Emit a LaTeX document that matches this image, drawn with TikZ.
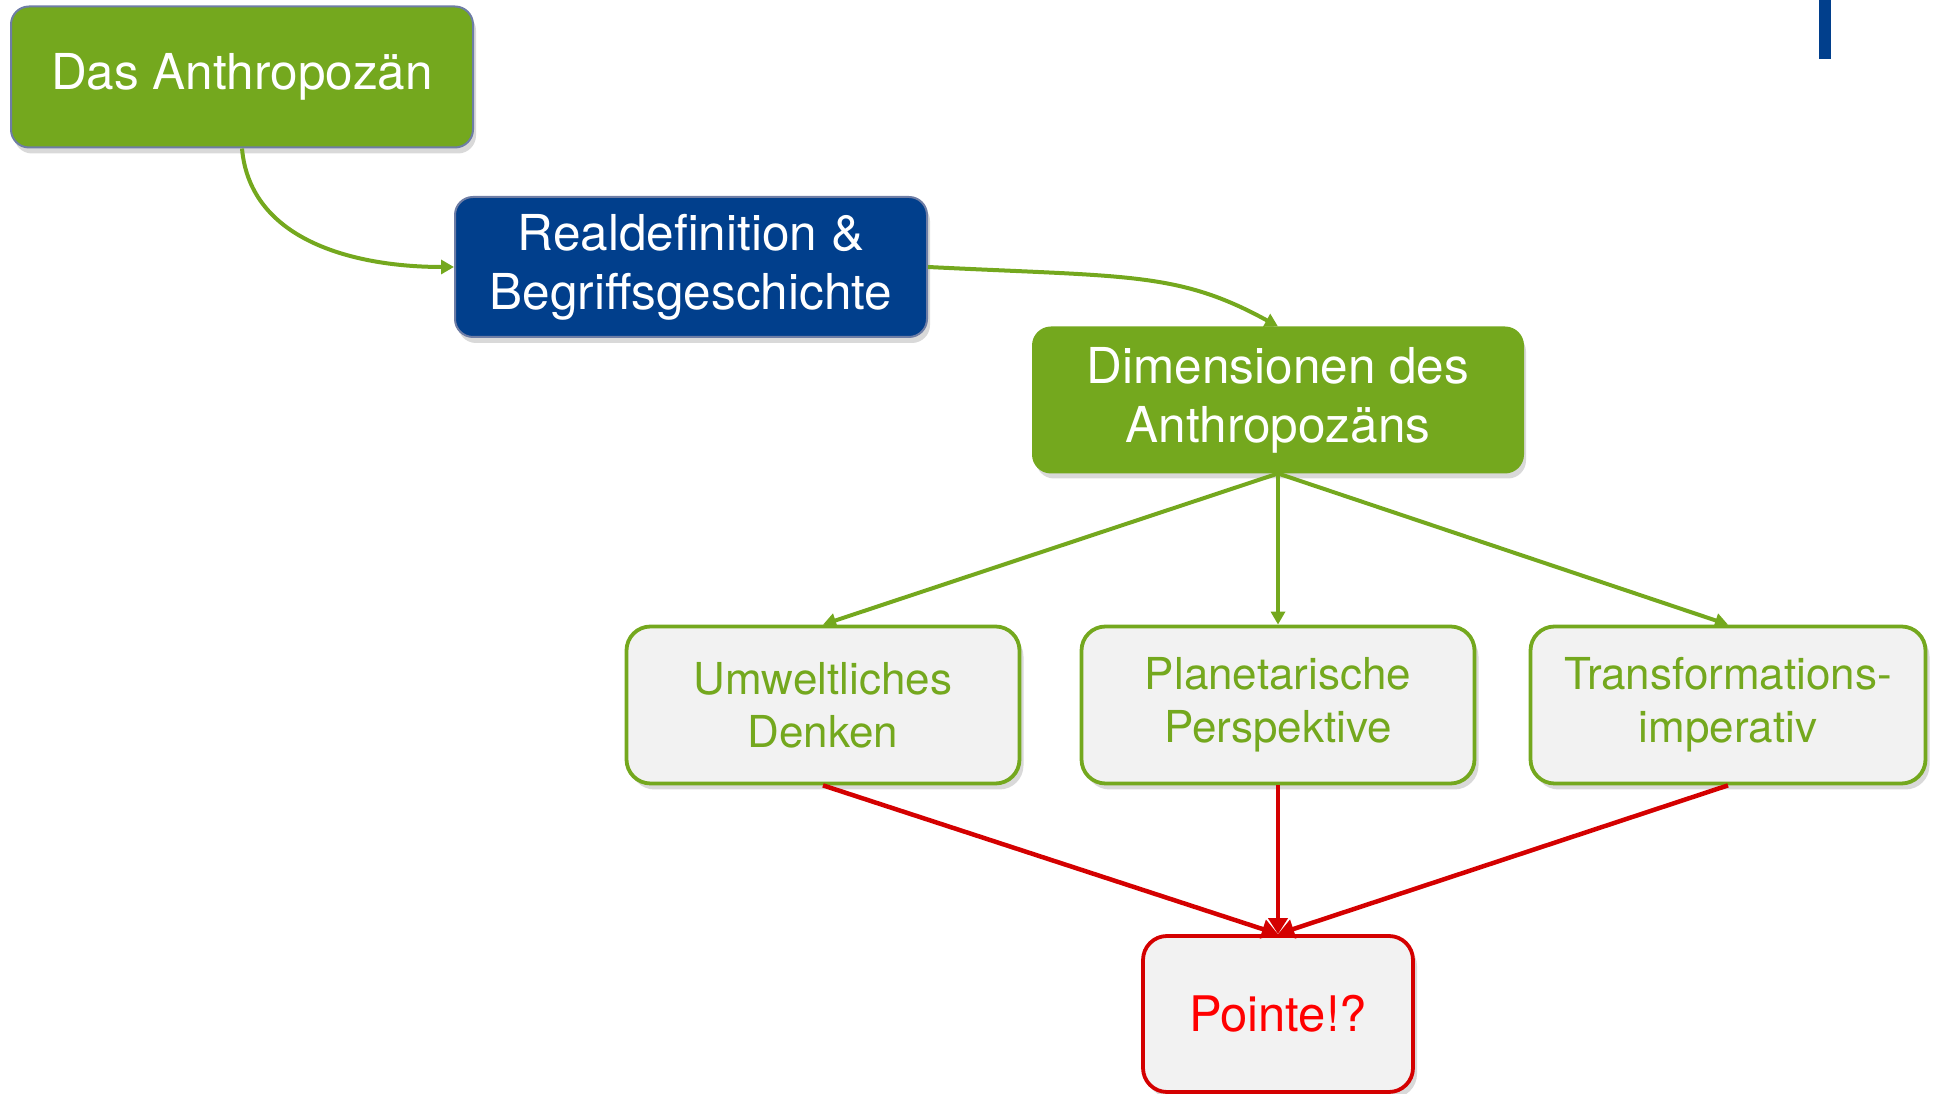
\documentclass[tikz,border=0pt]{standalone}
\usepackage{fontspec}
\setmainfont{TeX Gyre Heros}
\usetikzlibrary{arrows.meta,shadows}
\definecolor{anthgreen}{RGB}{116,168,30}
\definecolor{anthblue}{RGB}{1,63,140}
\definecolor{anthred}{RGB}{212,0,0}
\definecolor{edgegray}{RGB}{110,125,165}
\definecolor{lightfill}{RGB}{242,242,242}

\begin{document}
\begin{tikzpicture}[x=1pt,y=1pt,
  topbox/.style={rounded corners=18pt,text=white,align=center,inner sep=0pt,
    font={\fontsize{49.5}{59}\selectfont},line width=2pt,
    drop shadow={shadow xshift=3pt,shadow yshift=-6pt,opacity=0.3}},
  subbox/.style={rounded corners=24pt,fill=lightfill,draw=anthgreen,text=anthgreen,
    align=center,inner sep=0pt,line width=3.8pt,minimum width=393pt,minimum height=157pt,
    font={\fontsize{44}{53}\selectfont},
    drop shadow={shadow xshift=4pt,shadow yshift=-6pt,opacity=0.3}},
  greenarrow/.style={anthgreen,line width=4pt,-{Triangle[length=13pt,width=14pt]}},
  redarrow/.style={anthred,line width=4.5pt,-{Triangle[length=16pt,width=19pt]}}]
 \useasboundingbox (0,0) rectangle (1939,1094);
 \fill[anthblue] (1819,1035) rectangle (1831,1094);

 \node[topbox,fill=anthgreen,draw=edgegray,minimum width=462pt,minimum height=141pt] (anth) at (242,1017) {Das Anthropozän};
 \node[topbox,fill=anthblue,draw=edgegray,minimum width=472pt,minimum height=140pt] (real) at (691,827) {Realdefinition \&\\Begriffsgeschichte};
 \node[topbox,fill=anthgreen,draw=anthgreen,minimum width=490pt,minimum height=145pt] (dim) at (1278,694) {Dimensionen des\\Anthropozäns};

 \node[subbox] (umwelt) at (823,389) {Umweltliches\\Denken};
 \node[subbox] (planet) at (1278,389) {Planetarische\\Perspektive};
 \node[subbox,minimum width=395pt] (trans) at (1728,389) {Transformations-\\imperativ};

 \node[rounded corners=24pt,fill=lightfill,draw=anthred,text=red,line width=3.8pt,
   minimum width=270pt,minimum height=156pt,font={\fontsize{49}{59}\selectfont},
   drop shadow={shadow xshift=4pt,shadow yshift=-6pt,opacity=0.3}] (pointe) at (1278,80) {Pointe!?};

 \draw[greenarrow] (anth.south) to[out=-85,in=180] (real.west);
 \draw[greenarrow] (real.east) .. controls +(200,-10) and +(-100,55) .. (dim.north);
 \draw[greenarrow] (dim.south) -- (umwelt.north);
 \draw[greenarrow] (dim.south) -- (planet.north);
 \draw[greenarrow] (dim.south) -- (trans.north);

 \draw[redarrow] (umwelt.south) -- (pointe.north);
 \draw[redarrow] (planet.south) -- (pointe.north);
 \draw[redarrow] (trans.south) -- (pointe.north);
\end{tikzpicture}
\end{document}
